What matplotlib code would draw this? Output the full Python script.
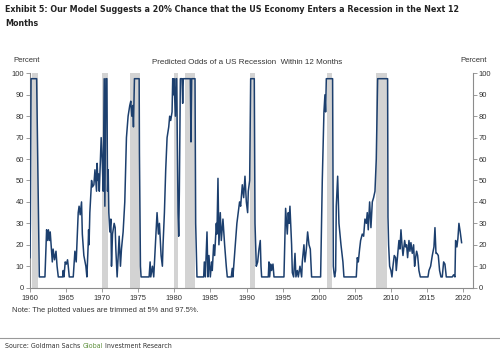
# -*- coding: utf-8 -*-

import matplotlib
matplotlib.use("Agg")
import matplotlib.pyplot as plt
from matplotlib import font_manager

# Дані (рік, ймовірність рецесії у %)
year = [
    1960.00, 1960.05, 1960.15, 1960.92, 1961.29, 1962.07, 1962.30, 1962.45, 1962.55, 1962.70,
    1962.80, 1963.09, 1963.20, 1963.40, 1963.60, 1963.75, 1963.92, 1964.52, 1964.60, 1964.70,
    1964.88, 1965.05, 1965.20, 1965.30, 1965.44, 1965.99, 1966.22, 1966.40, 1966.68, 1966.80,
    1966.95, 1967.14, 1967.25, 1967.46, 1967.74, 1967.88, 1968.06, 1968.12, 1968.18, 1968.29,
    1968.53, 1968.65, 1968.85, 1969.00, 1969.22, 1969.30, 1969.40, 1969.50, 1969.60, 1969.70,
    1969.86, 1970.00, 1970.14, 1970.28, 1970.37, 1970.51, 1970.65, 1970.74, 1970.83, 1970.92,
    1971.06, 1971.20, 1971.29, 1971.43, 1971.66, 1971.80, 1971.89, 1972.07, 1972.35, 1972.53,
    1972.67, 1972.90, 1973.13, 1973.36, 1973.59, 1973.82, 1973.96, 1974.10, 1974.24, 1974.33,
    1974.47, 1975.12, 1975.16, 1975.30, 1975.39, 1976.50, 1976.64, 1976.73, 1976.96, 1977.14,
    1977.37, 1977.60, 1977.79, 1977.93, 1978.16, 1978.34, 1978.43, 1978.62, 1978.80, 1978.99,
    1979.22, 1979.35, 1979.49, 1979.68, 1979.77, 1979.86, 1979.95, 1980.14, 1980.23, 1980.32,
    1980.51, 1980.60, 1980.69, 1980.83, 1981.06, 1981.15, 1981.24, 1982.21, 1982.30, 1982.40,
    1982.86, 1982.95, 1983.13, 1984.06, 1984.15, 1984.29, 1984.52, 1984.65, 1984.79, 1984.98,
    1985.16, 1985.25, 1985.44, 1985.58, 1985.81, 1985.90, 1986.04, 1986.17, 1986.36, 1986.50,
    1986.73, 1986.96, 1987.19, 1987.33, 1987.88, 1988.02, 1988.11, 1988.66, 1989.03, 1989.18,
    1989.41, 1989.60, 1989.78, 1989.97, 1990.15, 1990.24, 1990.43, 1990.57, 1991.07, 1991.17,
    1991.35, 1991.54, 1991.72, 1991.90, 1992.00, 1992.09, 1993.01, 1993.10, 1993.20, 1993.34,
    1993.47, 1993.66, 1993.80, 1995.18, 1995.41, 1995.64, 1995.78, 1995.88, 1996.01, 1996.24,
    1996.34, 1996.52, 1996.71, 1996.84, 1997.03, 1997.17, 1997.40, 1997.63, 1997.72, 1997.95,
    1998.09, 1998.28, 1998.46, 1998.65, 1998.83, 1999.01, 2000.26, 2000.49, 2000.72, 2000.86,
    2000.95, 2001.05, 2001.92, 2002.02, 2002.11, 2002.20, 2002.34, 2002.43, 2002.62, 2002.80,
    2002.94, 2003.08, 2003.35, 2003.49, 2005.20, 2005.34, 2005.48, 2005.66, 2005.80, 2006.03,
    2006.22, 2006.40, 2006.59, 2006.72, 2006.86, 2007.05, 2007.23, 2007.42, 2007.60, 2007.79,
    2007.97, 2008.16, 2009.54, 2009.59, 2009.68, 2009.82, 2010.00, 2010.14, 2010.28, 2010.46,
    2010.65, 2010.74, 2010.93, 2011.11, 2011.25, 2011.39, 2011.53, 2011.67, 2011.90, 2012.03,
    2012.17, 2012.31, 2012.50, 2012.63, 2012.77, 2012.96, 2013.14, 2013.28, 2013.42, 2013.56,
    2013.70, 2013.88, 2014.07, 2015.13, 2015.27, 2015.50, 2015.73, 2015.96, 2016.10, 2016.24,
    2016.37, 2016.56, 2016.74, 2016.93, 2017.11, 2017.30, 2017.48, 2017.67, 2018.50, 2018.68,
    2018.87, 2018.96, 2019.14, 2019.28, 2019.42, 2019.60, 2019.79,
]
odds = [
    14, 30, 97.5, 97.5, 5, 5, 27, 22, 27, 22,
    26, 12, 18, 13, 17, 10, 5, 5, 8, 5,
    12, 11, 13, 10, 5, 5, 17, 12, 35, 38,
    34, 40, 25, 15, 10, 5, 20, 27, 20, 35,
    50, 47, 48, 55, 45, 58, 50, 53, 45, 55,
    70, 60, 45, 97.5, 38, 97.5, 97.5, 45, 55, 35,
    26, 32, 10, 25, 30, 28, 18, 5, 24, 10,
    18, 26, 40, 70, 80, 85, 87, 80, 85, 75,
    97.5, 97.5, 63, 10, 5, 5, 12, 5, 10, 5,
    20, 35, 25, 30, 15, 10, 20, 35, 55, 70,
    75, 80, 78, 82, 97.5, 90, 97.5, 80, 97.5, 97.5,
    35, 24, 45, 97.5, 97.5, 86, 97.5, 97.5, 68, 97.5,
    97.5, 30, 5, 5, 12, 5, 26, 5, 15, 5,
    12, 8, 20, 15, 30, 25, 51, 20, 35, 22,
    32, 20, 10, 5, 5, 9, 5, 30, 40, 38,
    48, 42, 52, 40, 35, 45, 50, 97.5, 97.5, 30,
    10, 12, 18, 22, 10, 5, 5, 12, 5, 11,
    8, 11, 5, 5, 37, 25, 35, 30, 38, 20,
    7, 5, 16, 5, 8, 5, 10, 5, 12, 20,
    12, 18, 26, 20, 18, 5, 5, 50, 82, 90,
    82, 97.5, 97.5, 10, 7, 5, 8, 38, 52, 30,
    25, 20, 12, 5, 5, 14, 12, 18, 22, 25,
    24, 32, 30, 35, 27, 40, 28, 40, 42, 45,
    60, 97.5, 97.5, 33, 20, 10, 8, 5, 10, 15,
    14, 8, 15, 22, 18, 27, 20, 15, 22, 19,
    20, 14, 22, 17, 21, 16, 20, 10, 14, 17,
    15, 8, 5, 5, 8, 10, 15, 19, 28, 16,
    16, 15, 8, 5, 5, 12, 11, 5, 5, 6,
    5, 22, 19, 23, 30, 26, 21,
]

# Рецесії (NBER), початок і кінець
rec_start = [1960.33, 1969.92, 1973.88, 1980.00, 1981.50, 1990.50, 2001.17, 2007.92]
rec_end = [1961.08, 1970.83, 1975.17, 1980.50, 1982.83, 1991.17, 2001.83, 2009.50]

x_ticks = list(range(1960, 2021, 5))
y_ticks = list(range(0, 101, 10))

title_1 = "Exhibit 5: Our Model Suggests a 20% Chance that the US Economy Enters a Recession in the Next 12"
title_2 = "Months"


def narrow_font(bold):
    # шукаємо вузький шрифт (Arial Narrow-подібний), якщо є
    best = None
    for f in font_manager.fontManager.ttflist:
        is_narrow = ("Narrow" in f.name or "Condensed" in f.name
                     or f.stretch in ("condensed", "semi-condensed", 500 - 125))
        if not is_narrow:
            continue
        w = f.weight if isinstance(f.weight, int) else (700 if "bold" in str(f.weight) else 400)
        if (w >= 600) != bold or f.style != "normal":
            continue
        if best is None or "Liberation" in f.name:
            best = f
    if best is None:
        return font_manager.FontProperties(family="Liberation Sans",
                                           weight="bold" if bold else "normal")
    return font_manager.FontProperties(fname=best.fname)


plt.rcParams["font.family"] = ["Liberation Sans", "DejaVu Sans"]

line_color = "#1c3f6e"
grey_text = "#333333"
spine_color = "#8c8c8c"

fig = plt.figure(figsize=(5.0, 3.56), dpi=100)
ax = fig.add_axes([0.06, 0.192, 0.885, 0.602])

for s, e in zip(rec_start, rec_end):
    ax.axvspan(s, e, color="#d3d3d3", lw=0, zorder=1)

ax.plot(year, odds, color=line_color, lw=1.1, zorder=3)

ax.set_xlim(1960, 2021.3)
ax.set_ylim(0, 100)
ax.set_xticks(x_ticks)
ax.set_yticks(y_ticks)

ax.spines["top"].set_visible(False)
for side in ["left", "right", "bottom"]:
    ax.spines[side].set_color(spine_color)
    ax.spines[side].set_linewidth(0.8)

ax.yaxis.set_ticks_position("both")
ax.tick_params(axis="y", labelright=True, direction="out", length=3, width=0.6,
               color=spine_color, labelsize=5.5, labelcolor=grey_text, pad=1.5)
ax.tick_params(axis="x", direction="out", length=3, width=0.6,
               color=spine_color, labelsize=5.5, labelcolor=grey_text, pad=2)

renderer = fig.canvas.get_renderer()


def fit_text(x, y, txt, fp, size, width_px, **kw):
    # підбираємо розмір шрифту під ширину тексту з оригіналу
    t = fig.text(x, y, txt, fontproperties=fp, fontsize=size, **kw)
    w = t.get_window_extent(renderer).width
    t.set_fontsize(min(size, size * width_px / w))
    return t


bold_fp = narrow_font(True)
reg_fp = narrow_font(False)

# Заголовок
t1 = fit_text(0.01, 1 - 10 / 356, title_1, bold_fp, 8.0, 457,
              color="#222222", va="center", ha="left")
fig.text(0.01, 1 - 23 / 356, title_2, fontproperties=bold_fp, fontsize=t1.get_fontsize(),
         color="#222222", va="center", ha="left")

fig.text(247 / 500, 1 - 63 / 356, "Predicted Odds of a US Recession  Within 12 Months",
         fontsize=5.8, color=grey_text, ha="center", va="center")
fig.text(27 / 500, 1 - 61 / 356, "Percent", fontsize=5.5, color=grey_text, ha="center", va="center")
fig.text(474 / 500, 1 - 61 / 356, "Percent", fontsize=5.5, color=grey_text, ha="center", va="center")

fig.text(12 / 500, 1 - 311 / 356, "Note: The plotted values are trimmed at 5% and 97.5%.",
         fontsize=5.4, color=grey_text, ha="left", va="center")

# Лінія-розділювач і джерело
fig.add_artist(plt.Line2D([0, 1], [1 - 337.5 / 356] * 2, color="#999999", lw=0.8))

parts = [("Source: Goldman Sachs ", grey_text), ("Global", "#5c8f3a"), (" Investment Research", grey_text)]
probe = fit_text(0, 0, "".join(p[0] for p in parts), reg_fp, 6.6, 166)
src_size = probe.get_fontsize()
probe.remove()

x0 = 5 / 500
y0 = 1 - 346 / 356
for txt, col in parts:
    t = fig.text(x0, y0, txt, fontproperties=reg_fp, fontsize=src_size, color=col,
                 ha="left", va="center")
    x0 += t.get_window_extent(renderer).width / fig.bbox.width

fig.savefig("out.png", dpi=100)
